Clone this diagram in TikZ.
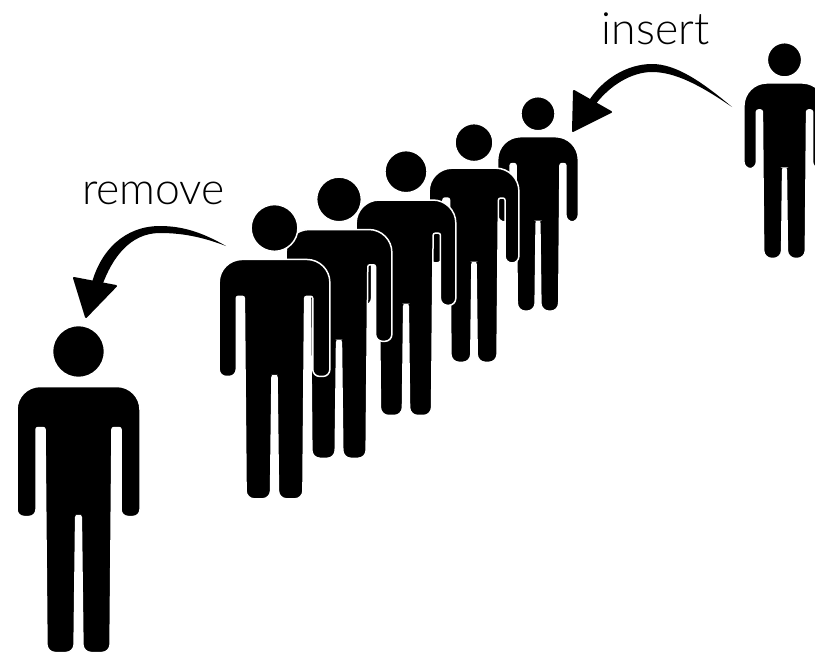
\documentclass[tikz,border=0pt]{standalone}
\usepackage{fontspec}
\setmainfont{Lato Light}
\usepackage{tikz}

\tikzset{
    person/.pic={
        \fill[figure line] (0,25.5) circle (26);
        \fill[figure line, rounded corners=2]
            (0,189.5) -- (2.8,189.5) [rounded corners=8] -- (4.5,326.5) -- (31.5,326.5)
            [rounded corners=2] -- (33.5,101.5) -- (42.5,101.5)
            [rounded corners=7] -- (42.5,190.5) -- (61.5,190.5)
            [rounded corners=23] -- (61.5,60.5) -- (-61.5,60.5)
            [rounded corners=7] -- (-61.5,190.5) -- (-42.5,190.5)
            [rounded corners=2] -- (-42.5,101.5) -- (-33.5,101.5)
            [rounded corners=8] -- (-31.5,326.5) -- (-4.5,326.5)
            [rounded corners=2] -- (-2.8,189.5) -- cycle;
    },
    figure line/.style={draw=white, line width=1.5pt, fill=black},
    tag/.style={font=\fontsize{44.5}{44.5}\selectfont, text=black, inner sep=0pt, anchor=base},
    sweep/.style={fill=black},
    tip/.style={fill=black, draw=black, line width=2pt, line join=round}
}

\begin{document}
\begin{tikzpicture}[x=1pt, y=-1pt]
    \useasboundingbox (0,0) rectangle (815,653);

    \foreach \px/\py/\ps/\pname in {538/97/0.656/six, 474/124/0.73/five, 406/151/0.81/four,
        339/177.5/0.86/three, 274.5/205/0.9/two, 78.5/326/1/one, 784.5/43/0.66/seven} {
        \pic (\pname) at (\px,\py) [scale=\ps] {person};
    }

    \node[tag] (insert) at (655.5,44) {insert};
    \node[tag] (remove) at (153.5,204) {remove};

    \coordinate (insertstart) at (732,107);
    \coordinate (insertend) at (588,102);
    \coordinate (removestart) at (226,246);
    \coordinate (removeend) at (91,286);

    \fill[sweep] (insertstart) .. controls (700,80) and (675,64) .. (652,64)
        .. controls (628,64) and (603,78) .. (insertend) -- ++(7,3)
        .. controls (610,85) and (632,72) .. (652,72)
        .. controls (675,72) and (700,85) .. (insertstart);
    \filldraw[tip] (574,91) -- (573,131) -- (611,112) -- cycle;

    \fill[sweep] (removestart) .. controls (205,234) and (185,226) .. (160,226)
        .. controls (125,226) and (100,250) .. (removeend) -- ++(11,0)
        .. controls (112,258) and (130,233) .. (160,233)
        .. controls (185,233) and (205,238) .. (removestart);
    \filldraw[tip] (74,278) -- (86,317) -- (116,286) -- cycle;
\end{tikzpicture}
\end{document}
